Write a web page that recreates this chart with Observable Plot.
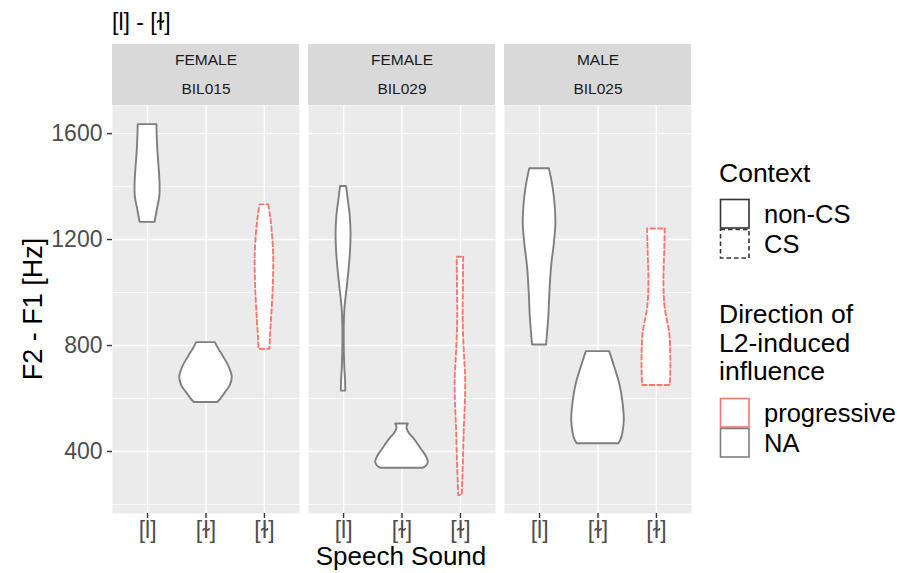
<!DOCTYPE html>
<html><head><meta charset="utf-8">
<script src="https://cdn.jsdelivr.net/npm/d3@7"></script>
<script src="https://cdn.jsdelivr.net/npm/@observablehq/plot@0.6"></script>
<style>
body{margin:0;background:#fff;font-family:"Liberation Sans",Arial,Helvetica,sans-serif;}
#wrap{position:relative;width:897px;height:573px;overflow:hidden;}
#wrap svg{position:absolute;left:0;top:0;}
</style></head><body>
<div id="wrap"></div>
<script>
// ---- data ----
const speakers = ["BIL015", "BIL029", "BIL025"];
const genders = ["FEMALE", "FEMALE", "MALE"];
const soundLabels = ["[l]", "[ɫ]", "[ɫ]"];
const contexts = ["non-CS", "non-CS", "CS"];          // per sound slot
const directions = ["NA", "NA", "progressive"];       // per sound slot
const yTicks = [400, 800, 1200, 1600];
const yMinor = [200, 600, 1000, 1400];

// violin outlines: [F2-F1 (Hz), half-width of density (category units)], top to bottom
const bil015_l  = [[1634,.160],[1586,.166],[1536,.176],[1473,.197],[1410,.214],[1360,.209],[1322,.176],[1290,.149],[1265,.128]];
const bil015_d1 = [[811,.159],[787,.217],[756,.303],[718,.399],[680,.450],[649,.416],[624,.340],[599,.257],[585,.200]];
const bil015_d2 = [[1331,.074],[1284,.108],[1221,.137],[1133,.159],[1045,.154],[970,.140],[894,.120],[831,.103],[786,.094]];
const bil029_l  = [[1400,.051],[1347,.082],[1284,.116],[1221,.128],[1158,.120],[1095,.098],[1020,.063],[945,.026],[894,.014],[794,.012],[718,.021],[668,.034],[628,.038]];
const bil029_d1 = [[504,.108],[490,.085],[470,.120],[454,.183],[435,.250],[416,.308],[397,.370],[378,.423],[360,.450],[348,.430],[340,.390],[337,.360]];
const bil029_d2 = [[1133,.055],[1032,.051],[907,.046],[819,.057],[743,.074],[680,.089],[617,.089],[542,.077],[466,.063],[366,.051],[290,.039],[234,.031]];
const bil025_l  = [[1467,.168],[1397,.231],[1322,.269],[1259,.279],[1183,.252],[1095,.205],[995,.176],[907,.158],[802,.120]];
const bil025_d1 = [[777,.200],[718,.286],[655,.372],[592,.423],[517,.450],[466,.423],[447,.400],[429,.356]];
const bil025_d2 = [[1240,.151],[1158,.142],[1032,.128],[944,.149],[844,.228],[768,.245],[693,.245],[649,.235]];

const violins = [
  [bil015_l, bil015_d1, bil015_d2],
  [bil029_l, bil029_d1, bil029_d2],
  [bil025_l, bil025_d1, bil025_d2]
];

const rows = [];
speakers.forEach((sp, si) => {
  violins[si].forEach((pts, k) => {
    pts.forEach(([value, hw]) => rows.push({
      speaker: sp, pos: k + 1, id: sp + "-" + k,
      context: contexts[k], direction: directions[k], value, hw
    }));
  });
});

const yMin = 166, yMax = 1706;
const stripTop = yMax + 61 / 408 * (yMax - yMin);
const font = '"Liberation Sans", Arial, Helvetica, sans-serif';

const violinOpts = {
  fx: "speaker", y: "value",
  x1: d => d.pos - d.hw, x2: d => d.pos + d.hw,
  z: "id", fill: "white", stroke: "direction", strokeWidth: 1.9,
  curve: "catmull-rom"
};

const chart = Plot.plot({
  width: 897, height: 573,
  marginLeft: 112, marginRight: 206, marginTop: 105, marginBottom: 60,
  style: {fontFamily: font, background: "transparent", overflow: "visible"},
  fx: {domain: speakers, paddingInner: 0.046, paddingOuter: 0, axis: null, label: null},
  x: {domain: [0.4, 3.6], label: null},
  y: {domain: [yMin, yMax], label: null},
  color: {domain: ["progressive", "NA"], range: ["#F8766D", "#7F7F7F"]},
  marks: [
    Plot.frame({fill: "#EBEBEB", stroke: null}),
    Plot.rect(speakers, {fx: d => d, x1: () => 0.4, x2: () => 3.6, y1: () => yMax, y2: () => stripTop, fill: "#D9D9D9"}),
    Plot.text(speakers, {fx: d => d, text: (d, i) => genders[i], frameAnchor: "top", lineAnchor: "middle", dy: -45, fontSize: 15.5, fill: "#1A1A1A"}),
    Plot.text(speakers, {fx: d => d, text: d => d, frameAnchor: "top", lineAnchor: "middle", dy: -16, fontSize: 15.5, fill: "#1A1A1A"}),
    Plot.gridY(yMinor, {stroke: "white", strokeOpacity: 1, strokeWidth: 0.7}),
    Plot.gridY(yTicks, {stroke: "white", strokeOpacity: 1, strokeWidth: 1.4}),
    Plot.gridX([1, 2, 3], {stroke: "white", strokeOpacity: 1, strokeWidth: 1.4}),
    Plot.areaX(rows.filter(d => d.context === "non-CS"), violinOpts),
    Plot.areaX(rows.filter(d => d.context === "CS"), {...violinOpts, strokeDasharray: "4.5,3"}),
    Plot.axisY(yTicks, {anchor: "left", tickSize: 5, tickPadding: 5, fontSize: 23, fill: "#4D4D4D", stroke: "#333333", strokeWidth: 1.4, tickFormat: d => String(d), label: null}),
    Plot.axisX([1, 2, 3], {anchor: "bottom", tickSize: 5, tickPadding: 3, fontSize: 23, fill: "#4D4D4D", stroke: "#333333", strokeWidth: 1.4, tickFormat: d => soundLabels[d - 1], label: null})
  ]
});
const wrap = document.getElementById("wrap");
wrap.appendChild(chart);

// ---- titles & legend (overlay) ----
const ctxKeys = [["non-CS", null], ["CS", "4.5,3"]];
const dirKeys = [["progressive", "#F8766D"], ["NA", "#7F7F7F"]];
const ov = d3.select(wrap).append("svg").attr("width", 897).attr("height", 573)
  .style("font-family", font).style("pointer-events", "none");

ov.append("text").attr("x", 112).attr("y", 30).attr("font-size", 23).text("[l] - [ɫ]");
ov.append("text").attr("x", 401).attr("y", 565).attr("font-size", 26).attr("text-anchor", "middle").text("Speech Sound");
ov.append("text").attr("transform", "translate(42,309) rotate(-90)").attr("font-size", 27)
  .attr("text-anchor", "middle").text("F2 - F1 [Hz]");

ov.append("text").attr("x", 719).attr("y", 182).attr("font-size", 26.5).text("Context");
ctxKeys.forEach(([lab, dash], i) => {
  const y = 199 + i * 30;
  ov.append("rect").attr("x", 720.5).attr("y", y + 0.5).attr("width", 28.5).attr("height", 28.5)
    .attr("fill", "white").attr("stroke", "#333333").attr("stroke-width", 1.6)
    .attr("stroke-dasharray", dash);
  ov.append("text").attr("x", 764).attr("y", y + 15).attr("dy", "0.36em").attr("font-size", 25.5).text(lab);
});
["Direction of", "L2-induced", "influence"].forEach((s, i) =>
  ov.append("text").attr("x", 719).attr("y", 323 + i * 28.5).attr("font-size", 26.5).text(s));
dirKeys.forEach(([lab, col], i) => {
  const y = 398 + i * 30;
  ov.append("rect").attr("x", 720.5).attr("y", y + 0.5).attr("width", 28.5).attr("height", 28.5)
    .attr("fill", "white").attr("stroke", col).attr("stroke-width", 1.6);
  ov.append("text").attr("x", 764).attr("y", y + 15).attr("dy", "0.36em").attr("font-size", 25.5).text(lab);
});
</script>
</body></html>
